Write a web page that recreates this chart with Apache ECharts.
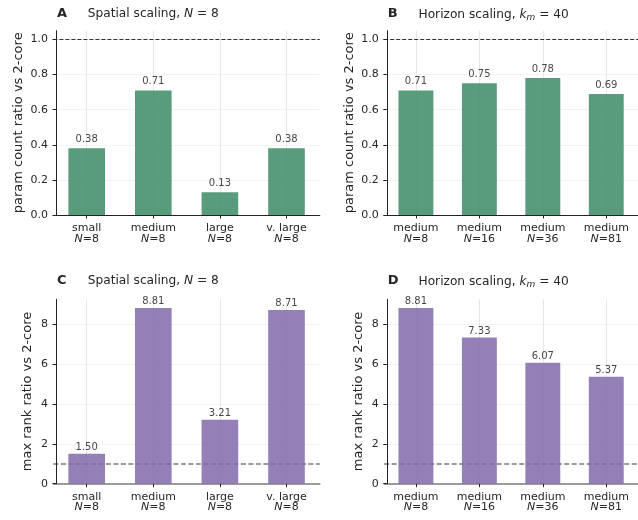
<!DOCTYPE html>
<html>
<head>
<meta charset="utf-8">
<script src="https://cdn.jsdelivr.net/npm/echarts@6/dist/echarts.min.js"></script>
<style>
html,body{margin:0;padding:0;background:#fff;}
#chart{width:638px;height:520px;}
</style>
</head>
<body>
<div id="chart"></div>
<script>
// ---- data ----
const catsSpatial = ['small', 'medium', 'large', 'v. large'];
const nSpatial = [8, 8, 8, 8];
const catsHorizon = ['medium', 'medium', 'medium', 'medium'];
const nHorizon = [8, 16, 36, 81];
const paramSpatial = [0.38, 0.71, 0.13, 0.38];
const paramHorizon = [0.71, 0.75, 0.78, 0.69];
const rankSpatial = [1.50, 8.81, 3.21, 8.71];
const rankHorizon = [8.81, 7.33, 6.07, 5.37];
const ticksParam = [0, 0.2, 0.4, 0.6, 0.8, 1.0];
const ticksRank = [0, 2, 4, 6, 8];
const refValue = 1.0;
const panelLetters = ['A', 'B', 'C', 'D'];

const FONT = 'DejaVu Sans';
const GREEN = '#3b8b64';
const PURPLE = '#8168a9';
const TXT = '#262626';

const chart = echarts.init(document.getElementById('chart'), null, {renderer: 'canvas'});

const grids = [
  {left: 53.4, top: 30.7, width: 266.4, height: 184.3},
  {left: 384.2, top: 30.7, width: 266.4, height: 184.3},
  {left: 53.4, top: 299.3, width: 266.4, height: 184.4},
  {left: 384.2, top: 299.3, width: 266.4, height: 184.4}
];

const panels = [
  {cats: catsSpatial, ns: nSpatial, vals: paramSpatial, ticks: ticksParam, max: 1.05, color: GREEN,
   yname: 'param count ratio vs 2-core', nameGap: 31, dec: 1, labDist: 3.5,
   ref: {color: '#333', type: [4, 2], width: 1}, bottom: {color: '#222', width: 1, z: 3}, title: 'spatial'},
  {cats: catsHorizon, ns: nHorizon, vals: paramHorizon, ticks: ticksParam, max: 1.05, color: GREEN,
   yname: 'param count ratio vs 2-core', nameGap: 31, dec: 1, labDist: 3.5,
   ref: {color: '#333', type: [4, 2], width: 1}, bottom: {color: '#222', width: 1, z: 3}, title: 'horizon'},
  {cats: catsSpatial, ns: nSpatial, vals: rankSpatial, ticks: ticksRank, max: 9.25, color: PURPLE,
   yname: 'max rank ratio vs 2-core', nameGap: 22, dec: 0, labDist: 1.5,
   ref: {color: '#7a7a7a', type: [5, 2.5], width: 1.5}, bottom: {color: '#7a7a7a', width: 1.6, z: 1}, title: 'spatial'},
  {cats: catsHorizon, ns: nHorizon, vals: rankHorizon, ticks: ticksRank, max: 9.25, color: PURPLE,
   yname: 'max rank ratio vs 2-core', nameGap: 22, dec: 0, labDist: 1.5,
   ref: {color: '#7a7a7a', type: [5, 2.5], width: 1.5}, bottom: {color: '#7a7a7a', width: 1.6, z: 1}, title: 'horizon'}
];

const xAxes = [], yAxes = [], series = [], titles = [];

panels.forEach((p, k) => {
  const catData = p.cats.map((c, i) => c + '\n' + p.ns[i]);
  xAxes.push({
    type: 'category', gridIndex: k, data: catData, boundaryGap: true, z: p.bottom.z,
    axisLine: {show: true, lineStyle: {color: p.bottom.color, width: p.bottom.width}},
    axisTick: {show: true, alignWithLabel: true, length: 3.5, lineStyle: {color: '#222', width: 1}},
    axisLabel: {
      margin: 8, interval: 0,
      formatter: v => { const s = v.split('\n'); return '{n|' + s[0] + '}\n{i|N}{n|=' + s[1] + '}'; },
      rich: {
        n: {fontFamily: FONT, fontSize: 11, color: TXT, lineHeight: 10.5},
        i: {fontFamily: FONT, fontSize: 11, color: TXT, fontStyle: 'italic', lineHeight: 10.5}
      }
    },
    splitLine: {show: false}
  });
  yAxes.push({
    type: 'value', gridIndex: k, min: 0, max: p.max, offset: -2.6, z: 3,
    name: p.yname, nameLocation: 'middle', nameGap: p.nameGap,
    nameTextStyle: {fontFamily: FONT, fontSize: 13, color: TXT},
    axisLine: {show: true, lineStyle: {color: '#222', width: 1}},
    axisTick: {show: true, length: 3.5, customValues: p.ticks, lineStyle: {color: '#222', width: 1}},
    axisLabel: {customValues: p.ticks, margin: 8, fontFamily: FONT, fontSize: 11, color: TXT,
      formatter: v => Number(v).toFixed(p.dec)},
    splitLine: {show: false}
  });
  // horizontal faint gridlines
  series.push({
    type: 'line', xAxisIndex: k, yAxisIndex: k, data: [], z: 0, silent: true,
    markLine: {z: 0, silent: true, symbol: 'none', animation: false, label: {show: false},
      lineStyle: {color: '#f3f3f5', type: 'solid', width: 1},
      data: p.ticks.filter(t => t > 0).map(t => ({yAxis: t}))}
  });
  // vertical gridlines at category centers
  series.push({
    type: 'line', xAxisIndex: k, yAxisIndex: k, data: [], z: 0, silent: true,
    markLine: {z: 0.5, silent: true, symbol: 'none', animation: false, label: {show: false},
      lineStyle: {color: '#e6e6ec', type: 'solid', width: 1},
      data: catData.map(c => ({xAxis: c}))}
  });
  // dashed reference line
  series.push({
    type: 'line', xAxisIndex: k, yAxisIndex: k, data: [], z: 1, silent: true,
    markLine: {z: 1, silent: true, symbol: 'none', animation: false, label: {show: false},
      lineStyle: p.ref,
      data: [{yAxis: refValue}]}
  });
  series.push({
    type: 'bar', xAxisIndex: k, yAxisIndex: k, z: 2, barWidth: '55%',
    data: p.vals,
    itemStyle: {color: p.color, opacity: 0.85},
    label: {show: true, position: 'top', distance: p.labDist, fontFamily: FONT, fontSize: 10, color: TXT,
      formatter: d => Number(d.value).toFixed(2)},
    animation: false
  });
  const g = grids[k];
  const ax = g.left + 2.6;
  const ty = k < 2 ? 7.5 : 274.5;
  titles.push({left: ax + 1, top: ty, padding: 0, text: panelLetters[k],
    textStyle: {fontFamily: FONT, fontSize: 13, fontWeight: 'bold', color: TXT}});
  let txt, rich = {
    t: {fontFamily: FONT, fontSize: 12.2, color: TXT, fontWeight: 'normal'},
    i: {fontFamily: FONT, fontSize: 12.2, color: TXT, fontStyle: 'italic', fontWeight: 'normal'},
    s: {fontFamily: FONT, fontSize: 9, color: TXT, fontStyle: 'italic', fontWeight: 'normal', verticalAlign: 'bottom', padding: [6, 0, 0, 0]}
  };
  if (p.title === 'spatial') txt = '{t|Spatial scaling, }{i|N}{t| = 8}';
  else txt = '{t|Horizon scaling, }{i|k}{s|m}{t| = 40}';
  titles.push({left: ax + 31.7, top: ty, padding: 0, text: txt, textStyle: {fontWeight: 'normal', rich: rich}});
});

chart.setOption({
  animation: false,
  backgroundColor: '#fff',
  title: titles,
  grid: grids,
  xAxis: xAxes,
  yAxis: yAxes,
  series: series
});
</script>
</body>
</html>
